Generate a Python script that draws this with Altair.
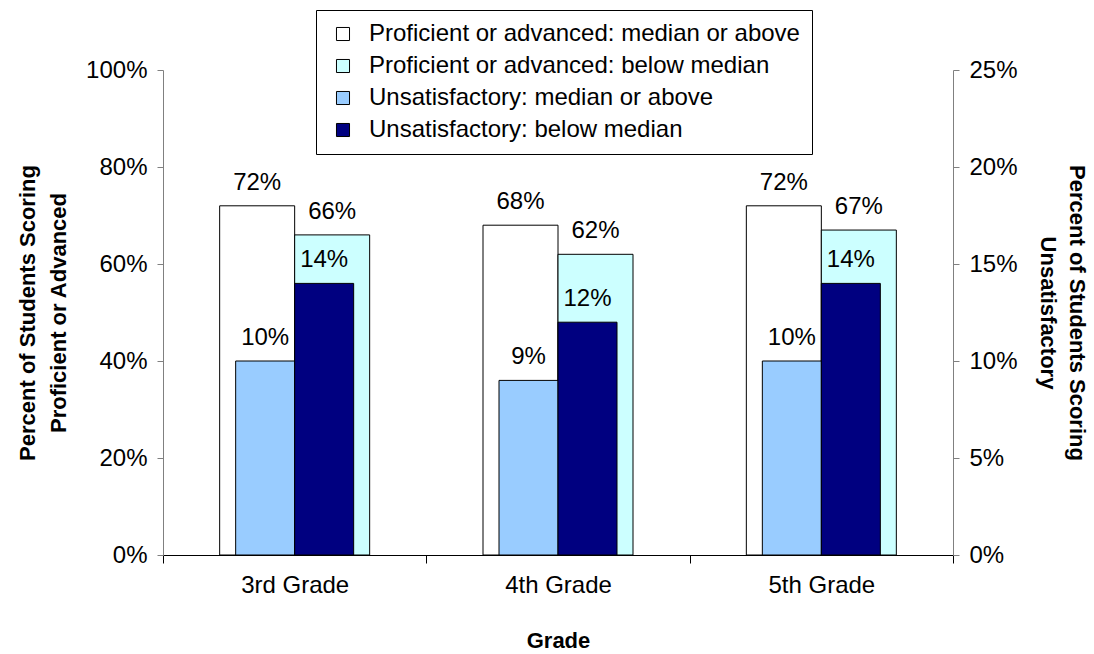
import altair as alt
import pandas as pd

grades = ["3rd Grade", "4th Grade", "5th Grade"]
series = [
    "Proficient or advanced: median or above",
    "Proficient or advanced: below median",
    "Unsatisfactory: median or above",
    "Unsatisfactory: below median",
]
prof_above = [0.72, 0.68, 0.72]
prof_below = [0.66, 0.62, 0.67]
unsat_above = [0.10, 0.09, 0.10]
unsat_below = [0.14, 0.12, 0.14]
colors = ["#FFFFFF", "#CCFFFF", "#99CCFF", "#000080"]

rows = []
for s, vals in zip(series, [prof_above, prof_below, unsat_above, unsat_below]):
    for g, v in zip(grades, vals):
        rows.append({"grade": g, "series": s, "value": v})
df = pd.DataFrame(rows)

FONT = "Liberation Sans"

x_enc = alt.X(
    "grade:N",
    sort=grades,
    scale=alt.Scale(paddingInner=0, paddingOuter=0),
    axis=alt.Axis(
        title="Grade", tickBand="extent", labelAngle=0, domainColor="black",
        tickColor="black", tickSize=8, labelPadding=10, labelFontSize=24,
        titleFontSize=22, titleFontWeight="bold", titlePadding=33,
        labelColor="black", titleColor="black", labelFont=FONT, titleFont=FONT,
    ),
)
color_enc = alt.Color(
    "series:N",
    scale=alt.Scale(domain=series, range=colors),
    legend=alt.Legend(title=None, labelExpr="datum.label + '\u00a0\u00a0\u00a0'"),
)

def bars(s, w, off, y):
    return alt.Chart(df).transform_filter(alt.datum.series == s).mark_bar(
        width=w, xOffset=off, stroke="black", strokeWidth=1, opacity=1
    ).encode(x=x_enc, y=y, color=color_enc)

def labels(s, off, y):
    return alt.Chart(df).transform_filter(alt.datum.series == s).mark_text(
        xOffset=off, dy=-16, baseline="alphabetic", fontSize=24, font=FONT, color="black"
    ).encode(x=x_enc, y=y, text=alt.Text("value:Q", format=".0%"))

y_left = alt.Y(
    "value:Q",
    scale=alt.Scale(domain=[0, 1], nice=False),
    axis=alt.Axis(
        title=["Percent of Students Scoring", "Proficient or Advanced"],
        format=".0%", values=[0, 0.2, 0.4, 0.6, 0.8, 1.0], orient="left",
        grid=False, domainColor="#808080", tickColor="#808080", tickSize=6,
        labelPadding=10, labelFontSize=24, titleFontSize=22, titleFontWeight="bold",
        titleLineHeight=31, titlePadding=15, labelColor="black", titleColor="black",
        labelFont=FONT, titleFont=FONT,
    ),
)
y_right = alt.Y(
    "value:Q",
    scale=alt.Scale(domain=[0, 0.25], nice=False),
    axis=alt.Axis(
        title=["Percent of Students Scoring", "Unsatisfactory"],
        format=".0%", values=[0, 0.05, 0.10, 0.15, 0.20, 0.25], orient="right",
        grid=False, domainColor="#808080", tickColor="#808080", tickSize=6,
        labelPadding=10, labelFontSize=24, titleFontSize=22, titleFontWeight="bold",
        titleLineHeight=29, titlePadding=18, titleAngle=90, labelColor="black",
        titleColor="black", labelFont=FONT, titleFont=FONT,
    ),
)

left = alt.layer(
    bars(series[0], 75, -37.5, y_left),
    bars(series[1], 75, 37.5, y_left),
    labels(series[0], -37.5, y_left),
    labels(series[1], 37.5, y_left),
)
right = alt.layer(
    bars(series[2], 59, -29.5, y_right),
    bars(series[3], 59, 29.5, y_right),
    labels(series[2], -29.5, y_right),
    labels(series[3], 29.5, y_right),
)

chart = alt.layer(left, right).resolve_scale(y="independent").properties(
    width=790, height=485,
    padding={"left": 163, "top": 70, "right": 141, "bottom": 99},
    autosize=alt.AutoSizeParams(type="none"),
    background="white",
).configure_view(stroke=None).configure_legend(
    orient="none", legendX=153, legendY=-60, strokeColor="black", fillColor="white",
    padding=12, rowPadding=8, symbolType="square", symbolSize=170, symbolOffset=3,
    symbolStrokeColor="black", symbolStrokeWidth=1, symbolOpacity=1,
    labelFontSize=24, labelFont=FONT, labelColor="black", labelLimit=700, labelOffset=14,
)

chart.save("out.html", embed_options={"renderer": "svg", "actions": False})
